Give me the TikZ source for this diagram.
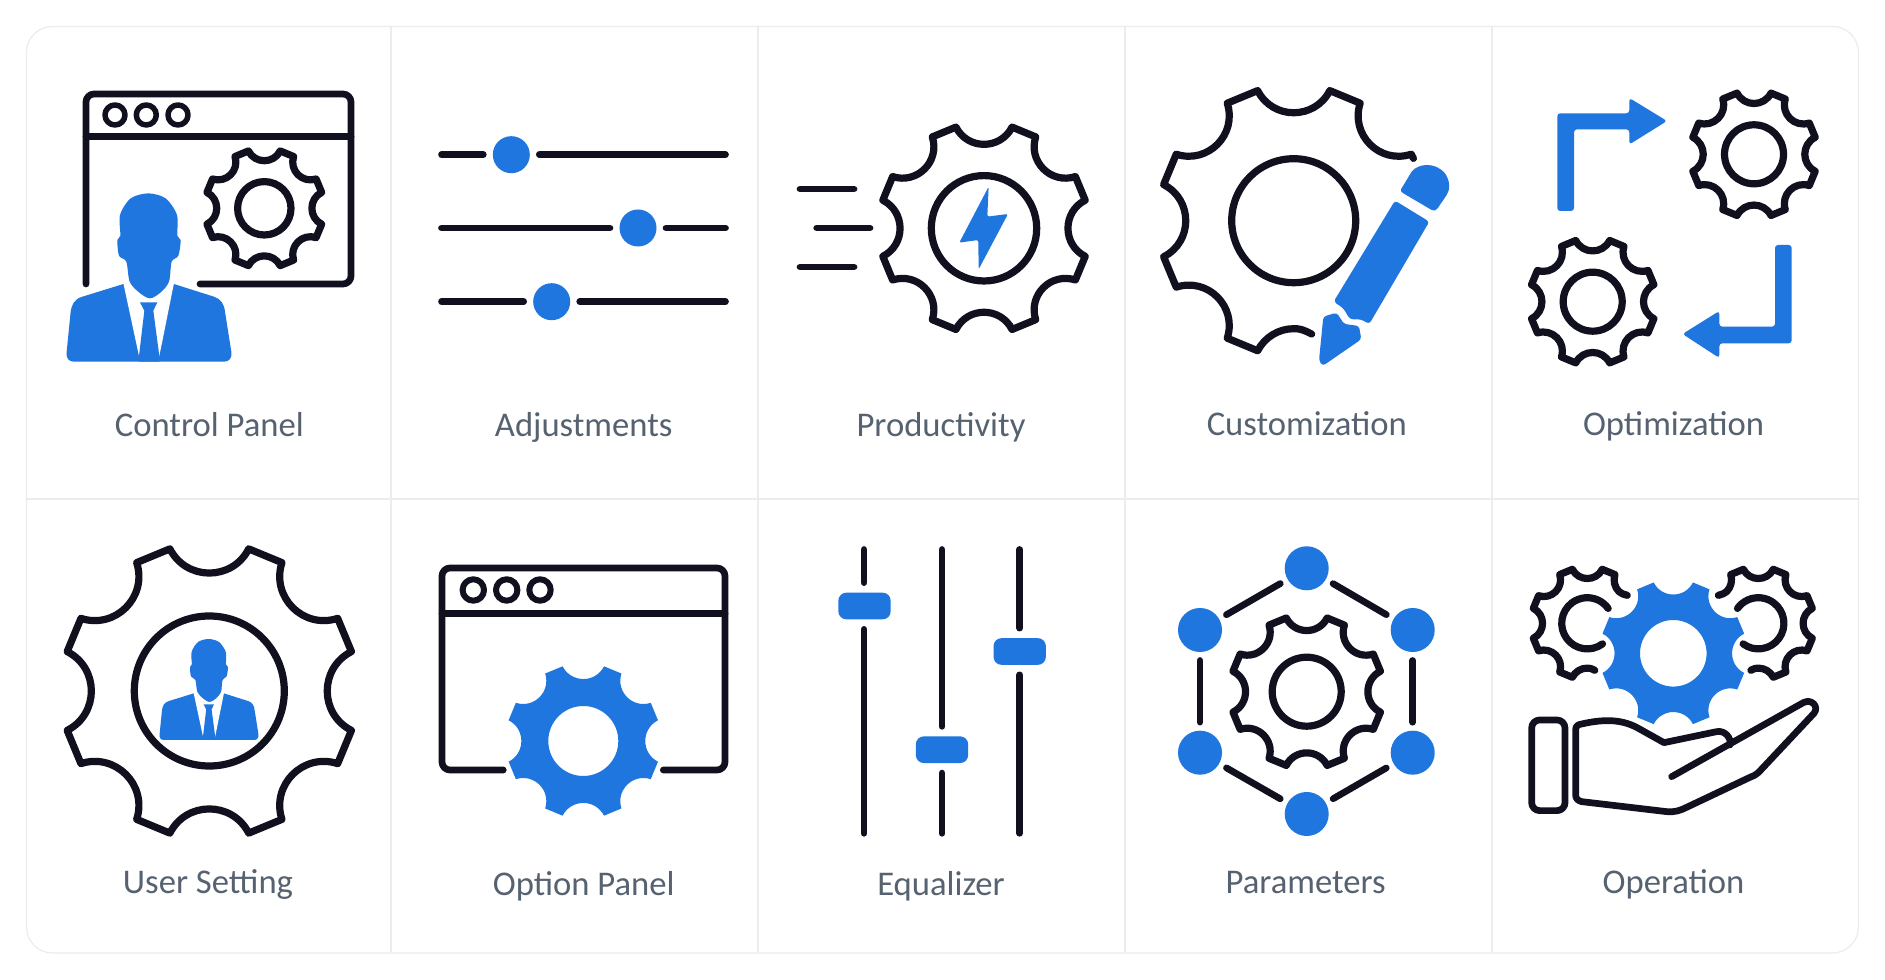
\documentclass[tikz,border=0pt]{standalone}
\usepackage{fontspec}
\setmainfont{Carlito}

\definecolor{iconblue}{HTML}{1F76DF}
\definecolor{icondark}{HTML}{10101F}
\definecolor{panelgrey}{HTML}{ECECEC}
\definecolor{labelgrey}{HTML}{566270}

\tikzset{
    iconline/.style={draw=icondark, line width=0.067cm, line cap=round, line join=round},
    gearstroke/.style={iconline, line width=0.072cm},
    panelline/.style={draw=panelgrey, line width=0.012cm},
    iconlabel/.style={text=labelgrey, font=\fontsize{9.85}{11}\selectfont, text height=0.2cm, text depth=0.06cm, inner sep=0},
    dotnode/.style={circle, fill=iconblue, minimum size=0.37cm, inner sep=0, outer sep=0.095cm},
    hexnode/.style={circle, fill=iconblue, minimum size=0.44cm, inner sep=0, outer sep=0.085cm},
    slidernode/.style={rectangle, rounded corners=0.08cm, fill=iconblue, minimum width=0.523cm, minimum height=0.267cm, inner sep=0, outer sep=0.1cm},
    pics/person/.style={code={
        \fill[iconblue] (-77,-233) -- (-200,-195) .. controls (-225,-188) and (-232,-170) .. (-235,-150)
            -- (-247,-30) .. controls (-250,-10) and (-240,0) .. (-225,0)
            -- (225,0) .. controls (240,0) and (250,-10) .. (247,-30)
            -- (228,-150) .. controls (225,-175) and (215,-188) .. (195,-195) -- (75,-233) -- cycle;
        \fill[white] (-77,-236) -- (75,-236) -- (31,-17) -- (-30,-17) -- cycle;
        \fill[iconblue] (-27,-178) -- (25,-178) -- (13,-153) -- (31,-17) -- (31,0) -- (-30,0) -- (-30,-17) -- (-14,-153) -- cycle;
        \fill[iconblue] plot[smooth cycle, tension=0.5] coordinates {(-2,-505) (50,-490) (84,-440) (85,-378) (95,-365)
            (88,-318) (68,-300) (60,-240) (35,-208) (3,-190) (-30,-208) (-58,-240) (-68,-300) (-90,-318) (-95,-365)
            (-86,-378) (-87,-440) (-55,-490)};
    }}
}

\newcommand{\gearpath}[1]{(-15.5:#1) \foreach \a in {0,45,...,315} {
    .. controls (\a-11.8:0.761*#1) and (\a+11.8:0.761*#1) .. (\a+15.5:#1) -- (\a+29.5:#1) } -- cycle}
\newcommand{\gearopenpath}[1]{(81:0.85*#1) .. controls (85:0.81*#1) and (87:0.8*#1) .. (90:0.8*#1)
    .. controls (98:0.808*#1) and (104:0.89*#1) .. (105.5:#1) -- (119.5:#1)
    \foreach \a in {135,180,225,270} {
    .. controls (\a-11.8:0.761*#1) and (\a+11.8:0.761*#1) .. (\a+15.5:#1) -- (\a+29.5:#1) }}
\newcommand{\gearline}[3]{\draw[gearstroke, shift={(#1)}] \gearpath{#2} (0,0) circle (#3);}
\newcommand{\gearsolid}[3]{\fill[iconblue, even odd rule, shift={(#1)}] \gearpath{#2} (0,0) circle (#3);}

\begin{document}
\begin{tikzpicture}[x=0.01cm, y=-0.01cm]
    \useasboundingbox (0,0) rectangle (1885,980);
    \fill[white] (0,0) rectangle (1885,980);

    % panels
    \draw[panelline, rounded corners=0.26cm] (26.5,26.5) rectangle (1858.5,953);
    \foreach \x in {391,758,1125,1492} {
	\draw[panelline] (\x,26.5) -- (\x,953);
    }
    \draw[panelline] (26.5,499) -- (1858.5,499);

    \node[iconlabel] (controllabel) at (209.3,430) {Control Panel};
    \node[iconlabel] (adjustlabel) at (583.7,430) {Adjustments};
    \node[iconlabel] (productlabel) at (941,430) {Productivity};
    \node[iconlabel] (customlabel) at (1306.8,429) {Customization};
    \node[iconlabel] (optimlabel) at (1673.5,429) {Optimization};
    \node[iconlabel] (userlabel) at (208,886.5) {User Setting};
    \node[iconlabel] (optionlabel) at (583.7,888) {Option Panel};
    \node[iconlabel] (equallabel) at (941,888) {Equalizer};
    \node[iconlabel] (paramlabel) at (1305.6,886.5) {Parameters};
    \node[iconlabel] (operlabel) at (1673.5,886.5) {Operation};

    % control panel
    \draw[iconline, rounded corners=0.08cm] (86,284) -- (86,94) -- (351,94) -- (351,284) -- (200,284);
    \draw[iconline] (86,136.7) -- (351,136.7);
    \foreach \x in {115,146.3,178} {
	\draw[iconline, line width=0.055cm] (\x,115) circle (10);
    }
    \gearline{264.3,208.3}{59.5}{26.7}
    \pic[scale=0.3333] at (149,361.7) {person};

    % adjustments
    \coordinate (slaleft) at (441.5,154.7);
    \coordinate (slaright) at (725.5,154.7);
    \coordinate (slbleft) at (441.5,228);
    \coordinate (slbright) at (725.5,228);
    \coordinate (slcleft) at (441.5,301.7);
    \coordinate (slcright) at (725.5,301.7);
    \node[dotnode] (sla) at (511.3,154.7) {};
    \node[dotnode] (slb) at (638,228) {};
    \node[dotnode] (slc) at (551.7,301.7) {};
    \draw[iconline] (slaleft) -- (sla);
    \draw[iconline] (sla) -- (slaright);
    \draw[iconline] (slbleft) -- (slb);
    \draw[iconline] (slb) -- (slbright);
    \draw[iconline] (slcleft) -- (slc);
    \draw[iconline] (slc) -- (slcright);

    % productivity
    \gearline{984,228.3}{105}{52.7}
    \draw[iconline] (800,189) -- (854,189);
    \draw[iconline] (816.7,228) -- (870,228);
    \draw[iconline] (800,267) -- (854,267);
    \begin{scope}[shift={(780,100)}, scale=0.3333]
	\fill[iconblue, rounded corners=0.02cm] (626,260) -- (538,428) -- (595,420) -- (596,508) -- (684,342) -- (622,350) -- cycle;
    \end{scope}

    % customization
    \draw[gearstroke, shift={(1293.7,220.7)}] \gearopenpath{135}
	.. controls (303.2:0.761*135) and (326.8:0.761*135) .. (330.5:135) -- (332.5:135);
    \draw[gearstroke, shift={(1293.7,220.7)}] (0,0) circle (62);
    \begin{scope}[shift={(1140,70)}, scale=0.3333]
	\fill[iconblue] (783,358) -- (815,305) .. controls (835,280) and (885,275) .. (915,310)
	    .. controls (932,335) and (930,360) .. (920,375) -- (893,415) .. controls (888,422) and (882,424) .. (875,420) -- (790,370) .. controls (783,366) and (781,362) .. (783,358) -- cycle;
	\fill[iconblue, rounded corners=0.03cm] (765,392) -- (868,455) -- (688,762) -- (662,748) -- (630,748) -- (610,715) -- (581,695) -- cycle;
	\fill[iconblue, rounded corners=0.03cm] (590,728) -- (612,762) -- (657,768) -- (664,808) -- (548,888) -- (537,872) -- (550,740) -- cycle;
    \end{scope}

    % optimization
    \gearline{1754,154.3}{63.5}{29.5}
    \gearline{1592.7,301.7}{63.5}{29.5}
    \fill[iconblue, rounded corners=0.03cm] (1557.3,211) -- (1557.3,113.3) -- (1629.3,113.3) -- (1629.3,98) -- (1667,121) -- (1629.3,144.5) -- (1629.3,129.3) -- (1574,129.3) -- (1574,211) -- cycle;
    \fill[iconblue, rounded corners=0.03cm] (1791.7,245) -- (1791.7,343.3) -- (1719.3,343.3) -- (1719.3,358) -- (1682.5,334) -- (1719.3,311) -- (1719.3,326.7) -- (1775,326.7) -- (1775,245) -- cycle;

    % user setting
    \gearline{209.3,691}{147.5}{75}
    \pic[scale=0.2] at (209,740) {person};

    % option panel
    \draw[iconline, rounded corners=0.08cm] (503.3,770) -- (442,770) -- (442,568) -- (725,568) -- (725,770) -- (663.3,770);
    \draw[iconline] (442,613.3) -- (725,613.3);
    \foreach \x in {473.3,506.7,540} {
	\draw[iconline, line width=0.06cm] (\x,590) circle (10.7);
    }
    \gearsolid{583.3,741}{77.5}{35}

    % equalizer
    \coordinate (eqatop) at (864,549.5);
    \coordinate (eqabot) at (864,833.3);
    \coordinate (eqbtop) at (942,549.5);
    \coordinate (eqbbot) at (942,833.3);
    \coordinate (eqctop) at (1019.7,549.5);
    \coordinate (eqcbot) at (1019.7,833.3);
    \node[slidernode] (eqa) at (864.5,606) {};
    \node[slidernode] (eqb) at (942,749.7) {};
    \node[slidernode] (eqc) at (1019.7,651.5) {};
    \draw[iconline] (eqatop) -- (eqatop |- eqa.north);
    \draw[iconline] (eqabot |- eqa.south) -- (eqabot);
    \draw[iconline] (eqbtop) -- (eqb);
    \draw[iconline] (eqb) -- (eqbbot);
    \draw[iconline] (eqctop) -- (eqc);
    \draw[iconline] (eqc) -- (eqcbot);

    % parameters
    \gearline{1306.7,691.7}{76.5}{34.5}
    \node[hexnode] (hexa) at (1306.7,568.3) {};
    \node[hexnode] (hexb) at (1412.7,630) {};
    \node[hexnode] (hexc) at (1412.7,752.7) {};
    \node[hexnode] (hexd) at (1306.7,814) {};
    \node[hexnode] (hexe) at (1200,752.7) {};
    \node[hexnode] (hexf) at (1200,630) {};
    \draw[iconline] (hexa) -- (hexb);
    \draw[iconline] (hexb) -- (hexc);
    \draw[iconline] (hexc) -- (hexd);
    \draw[iconline] (hexd) -- (hexe);
    \draw[iconline] (hexe) -- (hexf);
    \draw[iconline] (hexf) -- (hexa);

    % operation
    \gearsolid{1673.3,653.3}{73.5}{33.3}
    \foreach \x/\s in {1587.3/1,1758.3/-1} {
	\begin{scope}[shift={(\x,623.3)}, xscale=\s]
	    \draw[gearstroke] \gearopenpath{56}
		.. controls (301:0.89*56) and (307:0.808*56) .. (315:0.8*56)
		.. controls (318:0.803*56) and (322:0.83*56) .. (325:0.87*56);
	    \draw[gearstroke] (53.6:25.6) arc[start angle=53.6, end angle=324.5, radius=25.6];
	\end{scope}
    }
    \begin{scope}[shift={(1510,550)}, scale=0.3333]
	\draw[iconline, rounded corners=0.08cm] (65,510) rectangle (165,782);
	\draw[iconline] (485,680) -- (880,458) .. controls (905,445) and (928,470) .. (912,490)
	    -- (745,668) .. controls (738,675) and (730,678) .. (720,682) -- (530,772)
	    .. controls (510,782) and (495,787) .. (470,785) -- (215,755)
	    .. controls (203,752) and (197,745) .. (197,735) -- (197,540)
	    .. controls (197,528) and (203,524) .. (215,522) .. controls (290,505) and (340,510) .. (385,535)
	    -- (462,578) -- (620,545) .. controls (645,540) and (665,565) .. (660,585);
    \end{scope}
\end{tikzpicture}
\end{document}
